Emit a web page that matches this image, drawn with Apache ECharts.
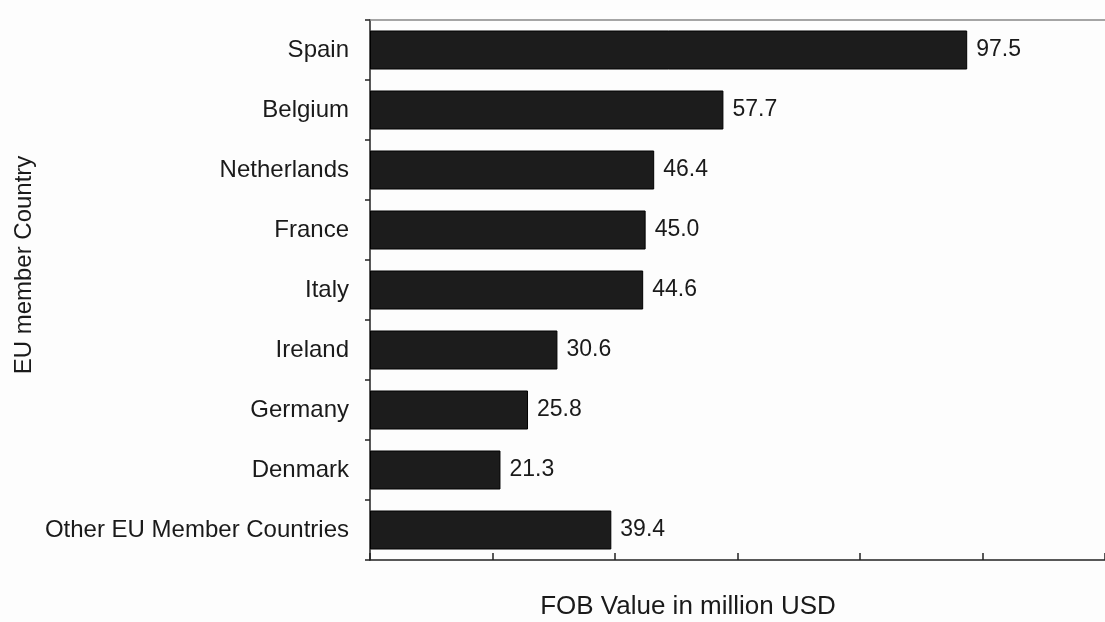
<!DOCTYPE html>
<html>
<head>
<meta charset="utf-8">
<script src="https://cdn.jsdelivr.net/npm/echarts@6/dist/echarts.min.js"></script>
<style>
html,body{margin:0;padding:0;background:#fdfdfd;}
#chart{width:1105px;height:622px;}
</style>
</head>
<body>
<div id="chart"></div>
<script>
const categories = ["Spain","Belgium","Netherlands","France","Italy","Ireland","Germany","Denmark","Other EU Member Countries"];
const values = [97.5, 57.7, 46.4, 45.0, 44.6, 30.6, 25.8, 21.3, 39.4];
const xTitle = "FOB Value in million USD";
const yTitle = "EU member Country";

const chart = echarts.init(document.getElementById('chart'), null, {renderer:'canvas'});
const font = "'Liberation Sans', Arial, Helvetica, sans-serif";
chart.setOption({
  backgroundColor: '#fdfdfd',
  animation: false,
  grid: {left: 370, top: 20, width: 739, height: 540, containLabel: false},
  xAxis: [{
    type: 'value', min: 0, max: 120, interval: 20, position: 'bottom',
    axisLine: {show: true, lineStyle: {color: '#222', width: 1.5}},
    axisTick: {show: true, inside: true, length: 7, lineStyle: {color: '#222', width: 1.5}},
    axisLabel: {show: false},
    splitLine: {show: false}
  },{
    type: 'value', min: 0, max: 120, position: 'top',
    axisLine: {show: true, lineStyle: {color: '#888', width: 1.5}},
    axisTick: {show: false}, axisLabel: {show: false}, splitLine: {show: false}
  }],
  yAxis: {
    type: 'category', data: categories, inverse: true,
    axisLine: {show: true, lineStyle: {color: '#222', width: 1.5}},
    axisTick: {show: true, length: 5, lineStyle: {color: '#222', width: 1.5}},
    axisLabel: {fontFamily: font, fontSize: 24, color: '#1a1a1a', margin: 21}
  },
  series: [{
    type: 'bar', data: values, barWidth: 39,
    itemStyle: {color: '#1c1c1c', borderColor: '#000', borderWidth: 1},
    label: {show: true, position: 'right', distance: 9, fontFamily: font, fontSize: 23, color: '#1a1a1a',
      formatter: p => p.value.toFixed(1)}
  }],
  graphic: [
    {type: 'text', x: 688, y: 607, style: {text: xTitle, font: '26px ' + font, fill: '#1a1a1a', align: 'center', verticalAlign: 'middle'}},
    {type: 'text', x: 24, y: 265, rotation: Math.PI/2, style: {text: yTitle, font: '24px ' + font, fill: '#1a1a1a', align: 'center', verticalAlign: 'middle'}}
  ]
});
</script>
</body>
</html>
